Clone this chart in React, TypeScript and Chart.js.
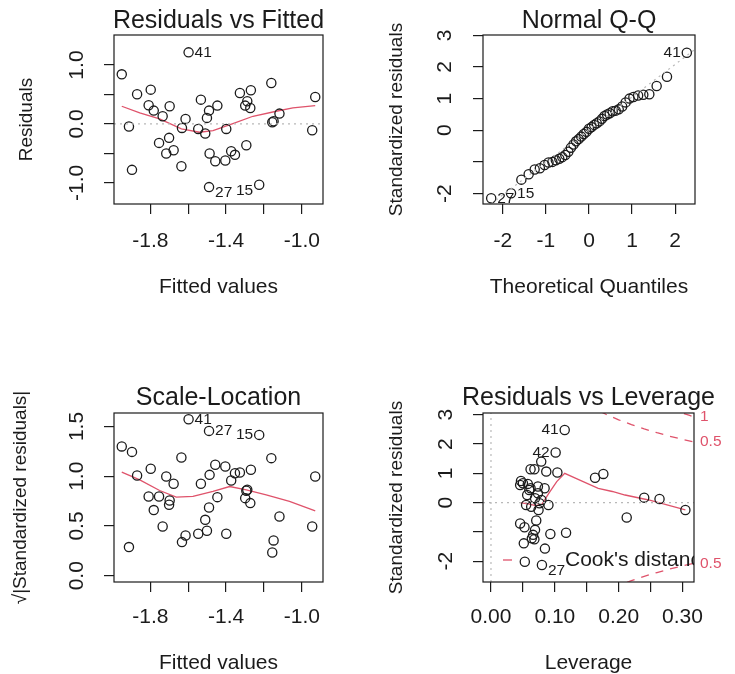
import React, { useEffect, useRef } from "react";
import { Chart, registerables } from "chart.js";

Chart.register(...registerables);

const FONT = "'Liberation Sans', Arial, Helvetica, sans-serif";
const INK = "#1b1b1b";
const RED = "#DF536B";
const GRAY = "#b8b8b8";
const X_AXIS_H = 45;

// ---------------- Data ----------------
// Residuals vs Fitted / Scale-Location (same observations, same order)
const fittedValues = [
  -1.951, -1.913, -1.897, -1.87, -1.798, -1.809, -1.782, -1.735, -1.754, -1.698, -1.701,
  -1.716, -1.677, -1.636, -1.633, -1.614, -1.598, -1.547, -1.533, -1.501, -1.49, -1.51,
  -1.446, -1.487, -1.457, -1.49, -1.404, -1.399, -1.373, -1.353, -1.327, -1.293, -1.299,
  -1.288, -1.272, -1.269, -1.225, -1.161, -1.156, -1.149, -1.118, -0.929, -0.945,
];
const residuals = [
  0.842, -0.045, -0.78, 0.503, 0.582, 0.316, 0.226, 0.13, -0.322, 0.299, -0.237, -0.503,
  -0.446, -0.718, -0.068, 0.085, 1.215, -0.085, 0.412, 0.102, 0.226, -0.164, 0.311, -0.503,
  -0.633, -1.073, -0.621, -0.085, -0.463, -0.525, 0.525, -0.362, 0.311, 0.384, 0.271, 0.571,
  -1.034, 0.695, 0.028, 0.045, 0.175, 0.458, -0.107,
];
const sqrtAbsStdResiduals = [
  1.3, 0.288, 1.245, 1.008, 1.075, 0.797, 0.66, 0.495, 0.797, 0.757, 0.713, 0.998, 0.924,
  1.188, 0.338, 0.405, 1.573, 0.422, 0.924, 0.452, 0.686, 0.562, 0.79, 1.014, 1.115, 1.456,
  1.098, 0.422, 0.957, 1.031, 1.038, 0.854, 0.78, 0.864, 0.73, 1.065, 1.416, 1.182, 0.234,
  0.355, 0.596, 0.998, 0.495,
];
const observationIds = [
  "", "", "", "", "", "", "", "", "", "", "", "", "", "", "", "", "41", "", "", "", "", "",
  "", "", "", "27", "", "", "", "", "", "", "", "", "", "", "15", "", "", "", "", "", "",
];
const rvfSmoothX = [-1.951, -1.856, -1.751, -1.636, -1.54, -1.469, -1.364, -1.258, -1.135, -1.047, -0.929];
const rvfSmoothY = [0.3, 0.186, 0.085, -0.085, -0.141, -0.113, 0.006, 0.13, 0.215, 0.271, 0.311];
const slSmoothX = [-1.951, -1.856, -1.751, -1.663, -1.575, -1.469, -1.381, -1.293, -1.188, -1.065, -0.929];
const slSmoothY = [1.041, 0.964, 0.857, 0.79, 0.797, 0.847, 0.897, 0.864, 0.814, 0.747, 0.653];

// Normal Q-Q
const qqTheoretical = [
  -2.27, -1.81, -1.57, -1.4, -1.26, -1.14, -1.03, -0.94, -0.85, -0.77, -0.69, -0.62, -0.55,
  -0.48, -0.42, -0.36, -0.3, -0.24, -0.18, -0.12, -0.06, 0.0, 0.06, 0.12, 0.18, 0.24, 0.3,
  0.36, 0.42, 0.48, 0.55, 0.62, 0.69, 0.77, 0.85, 0.94, 1.03, 1.14, 1.26, 1.4, 1.57, 1.81, 2.27,
];
const qqStdResiduals = [
  -2.15, -1.99, -1.56, -1.39, -1.24, -1.2, -1.1, -1.02, -1.0, -0.95, -0.9, -0.85, -0.78,
  -0.68, -0.55, -0.45, -0.35, -0.28, -0.2, -0.12, -0.05, 0.05, 0.1, 0.17, 0.22, 0.28, 0.36,
  0.45, 0.5, 0.54, 0.6, 0.62, 0.66, 0.75, 0.88, 1.0, 1.05, 1.1, 1.12, 1.14, 1.4, 1.69, 2.45,
];
const qqIds = [
  "27", "15", "", "", "", "", "", "", "", "", "", "", "", "", "", "", "", "", "", "", "", "",
  "", "", "", "", "", "", "", "", "", "", "", "", "", "", "", "", "", "", "", "", "41",
];
const qqLineX = [-2.6, 2.6];
const qqLineY = [-2.66, 2.7];

// Residuals vs Leverage
const leverage = [
  0.1155, 0.1013, 0.0787, 0.062, 0.068, 0.0866, 0.104, 0.163, 0.176, 0.047, 0.0457, 0.0577,
  0.062, 0.0735, 0.084, 0.0567, 0.069, 0.24, 0.264, 0.3045, 0.2126, 0.055, 0.063, 0.0745,
  0.09, 0.0709, 0.0457, 0.0525, 0.069, 0.064, 0.068, 0.093, 0.1176, 0.0514, 0.0845, 0.053,
  0.0798, 0.0735, 0.079, 0.076, 0.06, 0.05, 0.066,
];
const leverageStdResiduals = [
  2.48, 1.71, 1.4, 1.14, 1.14, 1.06, 1.03, 0.85, 0.98, 0.74, 0.6, 0.64, 0.49, 0.32, 0.49,
  0.26, 0.15, 0.17, 0.125, -0.25, -0.51, -0.08, -0.14, -0.25, -0.08, -0.61, -0.71, -0.84,
  -0.93, -1.22, -1.25, -1.07, -1.03, -1.39, -1.57, -2.02, -2.13, 0.55, 0.09, -0.02, 0.43,
  0.66, -1.1,
];
const leverageIds = [
  "41", "42", "", "", "", "", "", "", "", "", "", "", "", "", "", "", "", "", "", "", "", "",
  "", "", "", "", "", "", "", "", "", "", "", "", "", "", "27", "", "", "", "", "", "",
];
const levSmoothX = [0.0457, 0.06, 0.07, 0.08, 0.09, 0.103, 0.1155, 0.14, 0.168, 0.19, 0.21, 0.247, 0.27, 0.3045];
const levSmoothY = [0.0, -0.05, -0.1, -0.05, 0.3, 0.72, 1.0, 0.76, 0.49, 0.38, 0.26, 0.09, -0.04, -0.25];
// Cook's distance contours (leverage, std. residual)
const cookHalfX = [0.17, 0.18, 0.2, 0.22, 0.24, 0.26, 0.28, 0.3, 0.32];
const cookHalfY = [3.125, 3.018, 2.828, 2.663, 2.517, 2.386, 2.268, 2.16, 2.062];
const cookHalfLowY = [-3.125, -3.018, -2.828, -2.663, -2.517, -2.386, -2.268, -2.16, -2.062];
const cookOneX = [0.28, 0.29, 0.3, 0.31, 0.32];
const cookOneY = [3.207, 3.129, 3.055, 2.984, 2.915];
const cookLabels = ["1", "0.5", "0.5"];
const cookLabelY = [2.92, 2.07, -2.07];

// Ticks
const fitXTicks = [-1.8, -1.6, -1.4, -1.2, -1.0];
const fitXTickLabels = ["-1.8", "", "-1.4", "", "-1.0"];
const rvfYTicks = [-1.0, -0.5, 0, 0.5, 1.0];
const rvfYTickLabels = ["-1.0", "", "0.0", "", "1.0"];
const qqXTicks = [-2, -1, 0, 1, 2];
const qqXTickLabels = ["-2", "-1", "0", "1", "2"];
const stdYTicks = [-2, -1, 0, 1, 2, 3];
const stdYTickLabels = ["-2", "", "0", "1", "2", "3"];
const slYTicks = [0, 0.5, 1.0, 1.5];
const slYTickLabels = ["0.0", "0.5", "1.0", "1.5"];
const levXTicks = [0, 0.05, 0.1, 0.15, 0.2, 0.25, 0.3];
const levXTickLabels = ["0.00", "", "0.10", "", "0.20", "", "0.30"];

// ---------------- Helpers ----------------
const zip = (xs: number[], ys: number[]) => xs.map((x, i) => ({ x, y: ys[i] }));

const pointsDs = (data: any[]) => ({
  data,
  showLine: false,
  pointStyle: "circle",
  pointRadius: 4.6,
  pointHoverRadius: 4.6,
  pointBorderWidth: 1.3,
  pointBorderColor: INK,
  pointBackgroundColor: "rgba(0,0,0,0)",
  borderColor: INK,
  backgroundColor: "rgba(0,0,0,0)",
});

const lineDs = (data: any[], color: string, width: number, dash: number[] = []) => ({
  data,
  showLine: true,
  pointRadius: 0,
  pointHoverRadius: 0,
  borderColor: color,
  backgroundColor: color,
  borderWidth: width,
  borderDash: dash,
  fill: false,
  tension: 0,
});

type LabelSet = { xs: number[]; ys: number[]; ids: string[]; shiftNeg: boolean };

type Panel = {
  left: number;
  top: number;
  width: number;
  height: number;
  pad: { left: number; top: number; right: number; bottom: number };
  xMin: number;
  xMax: number;
  yMin: number;
  yMax: number;
  xTicks: number[];
  xTickLabels: string[];
  yTicks: number[];
  yTickLabels: string[];
  xLabelPad: number;
  datasets: any[];
  title: string;
  xTitle: string;
  yTitle: string;
  titleGap: number;
  xTitleGap: number;
  yTitleGap: number;
  yLabelGap: number;
  labels: LabelSet;
  extra?: (ctx: CanvasRenderingContext2D, chart: any) => void;
};

function decorPlugin(p: Panel) {
  return {
    id: "rDecor",
    afterDraw(chart: any) {
      const ctx: CanvasRenderingContext2D = chart.ctx;
      const a = chart.chartArea;
      const xs = chart.scales.x;
      const ys = chart.scales.y;
      ctx.save();
      // plot box
      ctx.strokeStyle = INK;
      ctx.lineWidth = 1.2;
      ctx.strokeRect(a.left, a.top, a.right - a.left, a.bottom - a.top);
      // title
      ctx.fillStyle = INK;
      ctx.font = `25px ${FONT}`;
      ctx.textAlign = "center";
      ctx.textBaseline = "alphabetic";
      ctx.fillText(p.title, (a.left + a.right) / 2, a.top - p.titleGap);
      // axis titles
      ctx.font = `21px ${FONT}`;
      ctx.textBaseline = "middle";
      ctx.fillText(p.xTitle, (a.left + a.right) / 2, a.bottom + p.xTitleGap);
      ctx.font = `19px ${FONT}`;
      ctx.save();
      ctx.translate(a.left - p.yTitleGap, (a.top + a.bottom) / 2);
      ctx.rotate(-Math.PI / 2);
      ctx.fillText(p.yTitle, 0, 0);
      ctx.restore();
      // y tick labels (parallel to axis, as in R)
      ctx.font = `21px ${FONT}`;
      p.yTicks.forEach((v, i) => {
        const lab = p.yTickLabels[i];
        if (!lab) return;
        ctx.save();
        ctx.translate(a.left - p.yLabelGap, ys.getPixelForValue(v));
        ctx.rotate(-Math.PI / 2);
        ctx.fillText(lab, 0, 0);
        ctx.restore();
      });
      // point labels
      const L = p.labels;
      const idx = L.ids.map((s, i) => (s ? i : -1)).filter((i) => i >= 0);
      const lx = idx.map((i) => L.xs[i]);
      const mid = (Math.min(...lx) + Math.max(...lx)) / 2;
      ctx.font = `15.5px ${FONT}`;
      ctx.textBaseline = "middle";
      idx.forEach((i) => {
        const px = xs.getPixelForValue(L.xs[i]);
        let py = ys.getPixelForValue(L.ys[i]);
        if (L.shiftNeg && L.ys[i] < 0) py += 6;
        if (L.xs[i] > mid) {
          ctx.textAlign = "right";
          ctx.fillText(L.ids[i], px - 6, py);
        } else {
          ctx.textAlign = "left";
          ctx.fillText(L.ids[i], px + 6, py);
        }
      });
      if (p.extra) p.extra(ctx, chart);
      ctx.restore();
    },
  };
}

function makeConfig(p: Panel): any {
  const findLabel = (ticks: number[], labels: string[], v: number) => {
    const i = ticks.findIndex((t) => Math.abs(t - v) < 1e-9);
    return i >= 0 ? labels[i] : "";
  };
  const grid = {
    display: true,
    drawOnChartArea: false,
    drawTicks: true,
    tickLength: 10,
    color: INK,
    tickColor: INK,
    lineWidth: 1.2,
    tickWidth: 1.2,
  };
  return {
    type: "scatter",
    data: { datasets: p.datasets },
    options: {
      animation: false,
      responsive: false,
      devicePixelRatio: 1,
      events: [],
      layout: { padding: p.pad },
      plugins: {
        legend: { display: false },
        tooltip: { enabled: false },
        title: { display: false },
      },
      scales: {
        x: {
          type: "linear",
          position: "bottom",
          min: p.xMin,
          max: p.xMax,
          afterBuildTicks: (s: any) => {
            s.ticks = p.xTicks.map((v) => ({ value: v }));
          },
          afterFit: (s: any) => {
            s.height = X_AXIS_H;
          },
          grid,
          border: { display: false },
          ticks: {
            autoSkip: false,
            maxRotation: 0,
            minRotation: 0,
            padding: p.xLabelPad,
            color: INK,
            font: { family: FONT, size: 21, lineHeight: 1 },
            callback: (v: number) => findLabel(p.xTicks, p.xTickLabels, v),
          },
        },
        y: {
          type: "linear",
          position: "left",
          min: p.yMin,
          max: p.yMax,
          afterBuildTicks: (s: any) => {
            s.ticks = p.yTicks.map((v) => ({ value: v }));
          },
          afterFit: (s: any) => {
            s.width = 0;
          },
          grid,
          border: { display: false },
          ticks: { display: false },
        },
      },
    },
    plugins: [decorPlugin(p)],
  };
}

function ChartPanel({ panel }: { panel: Panel }) {
  const ref = useRef<HTMLCanvasElement | null>(null);
  useEffect(() => {
    if (!ref.current) return;
    const chart = new Chart(ref.current, makeConfig(panel));
    return () => chart.destroy();
  }, [panel]);
  return (
    <canvas
      ref={ref}
      width={panel.width}
      height={panel.height}
      style={{
        position: "absolute",
        left: panel.left,
        top: panel.top,
        width: panel.width,
        height: panel.height,
      }}
    />
  );
}

// ---------------- Panels ----------------
const panels: Panel[] = [
  {
    left: 0,
    top: 0,
    width: 367,
    height: 337,
    pad: { left: 114, top: 35, right: 44, bottom: 133 - X_AXIS_H },
    xMin: -1.992,
    xMax: -0.888,
    yMin: -1.36,
    yMax: 1.51,
    xTicks: fitXTicks,
    xTickLabels: fitXTickLabels,
    yTicks: rvfYTicks,
    yTickLabels: rvfYTickLabels,
    xLabelPad: 17,
    datasets: [
      lineDs(zip([-1.992, -0.888], [0, 0]), GRAY, 1.2, [2, 4]),
      pointsDs(zip(fittedValues, residuals)),
      lineDs(zip(rvfSmoothX, rvfSmoothY), RED, 1.3),
    ],
    title: "Residuals vs Fitted",
    xTitle: "Fitted values",
    yTitle: "Residuals",
    titleGap: 7,
    xTitleGap: 83,
    yTitleGap: 87,
    yLabelGap: 37,
    labels: { xs: fittedValues, ys: residuals, ids: observationIds, shiftNeg: true },
  },
  {
    left: 367,
    top: 0,
    width: 368,
    height: 337,
    pad: { left: 116, top: 35, right: 40, bottom: 133 - X_AXIS_H },
    xMin: -2.46,
    xMax: 2.46,
    yMin: -2.33,
    yMax: 3.01,
    xTicks: qqXTicks,
    xTickLabels: qqXTickLabels,
    yTicks: stdYTicks,
    yTickLabels: stdYTickLabels,
    xLabelPad: 17,
    datasets: [
      lineDs(zip(qqLineX, qqLineY), GRAY, 1.2, [2, 4]),
      pointsDs(zip(qqTheoretical, qqStdResiduals)),
    ],
    title: "Normal Q-Q",
    xTitle: "Theoretical Quantiles",
    yTitle: "Standardized residuals",
    titleGap: 7,
    xTitleGap: 83,
    yTitleGap: 86,
    yLabelGap: 38,
    labels: { xs: qqTheoretical, ys: qqStdResiduals, ids: qqIds, shiftNeg: false },
  },
  {
    left: 0,
    top: 337,
    width: 367,
    height: 337,
    pad: { left: 114, top: 76, right: 44, bottom: 92 - X_AXIS_H },
    xMin: -1.992,
    xMax: -0.888,
    yMin: -0.063,
    yMax: 1.636,
    xTicks: fitXTicks,
    xTickLabels: fitXTickLabels,
    yTicks: slYTicks,
    yTickLabels: slYTickLabels,
    xLabelPad: 15,
    datasets: [
      pointsDs(zip(fittedValues, sqrtAbsStdResiduals)),
      lineDs(zip(slSmoothX, slSmoothY), RED, 1.3),
    ],
    title: "Scale-Location",
    xTitle: "Fitted values",
    yTitle: "\u221A|Standardized residuals|",
    titleGap: 8,
    xTitleGap: 81,
    yTitleGap: 93,
    yLabelGap: 37,
    labels: { xs: fittedValues, ys: sqrtAbsStdResiduals, ids: observationIds, shiftNeg: false },
  },
  {
    left: 367,
    top: 337,
    width: 368,
    height: 337,
    pad: { left: 116, top: 76, right: 41, bottom: 92 - X_AXIS_H },
    xMin: -0.0125,
    xMax: 0.318,
    yMin: -2.71,
    yMax: 3.06,
    xTicks: levXTicks,
    xTickLabels: levXTickLabels,
    yTicks: stdYTicks,
    yTickLabels: stdYTickLabels,
    xLabelPad: 15,
    datasets: [
      lineDs(zip([-0.0125, 0.318], [0, 0]), GRAY, 1.2, [2, 4]),
      lineDs(zip([0, 0], [-2.71, 3.06]), GRAY, 1.2, [2, 4]),
      pointsDs(zip(leverage, leverageStdResiduals)),
      lineDs(zip(levSmoothX, levSmoothY), RED, 1.3),
      lineDs(zip(cookHalfX, cookHalfY), RED, 1.3, [8, 7]),
      lineDs(zip(cookHalfX, cookHalfLowY), RED, 1.3, [8, 7]),
      lineDs(zip(cookOneX, cookOneY), RED, 1.3, [8, 7]),
    ],
    title: "Residuals vs Leverage",
    xTitle: "Leverage",
    yTitle: "Standardized residuals",
    titleGap: 8,
    xTitleGap: 81,
    yTitleGap: 86,
    yLabelGap: 37,
    labels: { xs: leverage, ys: leverageStdResiduals, ids: leverageIds, shiftNeg: true },
    extra: (ctx, chart) => {
      const a = chart.chartArea;
      const ys = chart.scales.y;
      ctx.fillStyle = RED;
      ctx.font = `15.5px ${FONT}`;
      ctx.textAlign = "left";
      ctx.textBaseline = "middle";
      cookLabels.forEach((t, i) => ctx.fillText(t, a.right + 6, ys.getPixelForValue(cookLabelY[i])));
      ctx.save();
      ctx.beginPath();
      ctx.rect(a.left, a.top, a.right - a.left, a.bottom - a.top);
      ctx.clip();
      ctx.strokeStyle = RED;
      ctx.lineWidth = 1.3;
      ctx.beginPath();
      ctx.moveTo(a.left + 20, a.bottom - 22);
      ctx.lineTo(a.left + 29, a.bottom - 22);
      ctx.stroke();
      ctx.fillStyle = INK;
      ctx.font = `21px ${FONT}`;
      ctx.fillText("Cook's distance", a.left + 82, a.bottom - 22);
      ctx.restore();
    },
  },
];

export default function App() {
  return (
    <div
      style={{
        position: "absolute",
        left: 0,
        top: 0,
        width: 735,
        height: 674,
        background: "#ffffff",
        overflow: "hidden",
      }}
    >
      {panels.map((p, i) => (
        <ChartPanel key={i} panel={p} />
      ))}
    </div>
  );
}
